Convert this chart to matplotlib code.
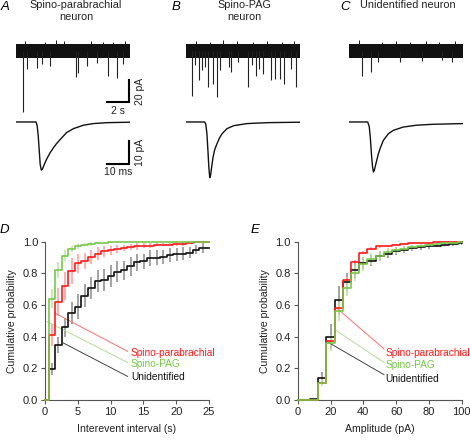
import matplotlib
matplotlib.use("Agg")
import matplotlib.pyplot as plt
from matplotlib.ticker import FormatStrFormatter
import numpy as np

plt.rcParams['font.family'] = ['Liberation Sans', 'DejaVu Sans']

W, H = 470, 440

# ---- raw traces (s, pA below baseline) ----
dur_raw = 10.36
noise_half = 6.5
raw_events = {
    'A': ([0.66, 0.97, 1.88, 2.33, 3.09, 5.45, 5.66, 6.42, 7.33, 8.39, 9.21, 9.76],
          [55.1, 16.6, 15.1, 12.1, 13.6, 23.6, 19.6, 13.6, 11.0, 22.7, 24.2, 12.0]),
    'B': ([0.52, 0.82, 1.21, 1.43, 1.73, 2.03, 2.48, 2.82, 3.12, 3.94, 4.09, 4.70,
           5.61, 5.97, 6.36, 6.66, 6.97, 7.73, 8.09, 8.57, 8.94, 9.54, 10.00],
          [41.2, 13.0, 26.6, 17.6, 14.5, 32.7, 29.7, 41.8, 17.6, 14.5, 19.1, 10.0,
           32.7, 13.0, 23.0, 16.1, 21.2, 26.6, 25.2, 25.2, 29.7, 16.1, 32.7]),
    'C': ([1.21, 1.97, 2.66, 4.64, 6.61, 8.43, 9.39],
          [22.5, 19.4, 9.7, 9.7, 9.1, 8.2, 9.7]),
}
raw_up = {
    'A': ([0.8, 2.6, 3.6, 4.4, 6.8, 7.9, 8.8, 9.9], [9, 8, 10, 9, 9, 8, 8, 9]),
    'B': ([0.9, 2.2, 3.4, 4.6, 6.1, 7.4, 8.7, 9.8], [9, 8, 10, 9, 8, 9, 8, 9]),
    'C': ([0.9, 3.0, 4.3, 5.5, 7.0, 8.2, 9.6], [10, 8, 9, 8, 9, 8, 9]),
}

# ---- averaged EPSCs (ms, pA) ----
avg_t = {
    'A': [0, 9.1, 9.6, 10.1, 10.6, 11.0, 11.5, 12.0, 12.6, 13.9, 15.4, 17.0, 18.5, 20.0,
          23.0, 26.1, 30.6, 35.1, 41.2, 51.8],
    'B': [0, 8.5, 9.0, 9.5, 10.0, 10.4, 10.8, 11.2, 11.6, 12.3, 13.1, 14.1, 15.2, 16.4,
          18.6, 21.7, 27.7, 36.8, 51.6],
    'C': [0, 8.5, 9.2, 9.7, 10.2, 10.7, 11.1, 11.5, 12.0, 12.6, 13.3, 14.1, 15.6, 17.9,
          20.2, 24.7, 30.7, 38.3, 51.9],
}
avg_i = {
    'A': [0, 0, -1.5, -6, -13, -18.5, -20.9, -20.5, -19.0, -16.2, -13.5, -11.2, -9.3, -7.7,
          -4.6, -2.9, -1.4, -0.7, -0.3, -0.1],
    'B': [0, 0, -1, -5, -13, -20, -24.2, -23, -20, -15.2, -11.8, -9.4, -7.0, -5.1,
          -2.9, -1.6, -0.7, -0.3, -0.1],
    'C': [0, 0, -2, -7, -14, -19.5, -21.7, -21, -19, -16.7, -14.0, -11.6, -8.0, -5.1,
          -3.6, -2.2, -1.4, -1.0, -0.7],
}

titles = {'A': 'Spino-parabrachial\nneuron', 'B': 'Spino-PAG\nneuron', 'C': 'Unidentified neuron'}
lefts = {'A': 16, 'B': 186, 'C': 349}

# ---- cumulative distributions ----
groups = ['Spino-parabrachial', 'Spino-PAG', 'Unidentified']
iei_edges = list(np.arange(0.55, 24, 1.0))
iei_mean = {
    'Unidentified': [0.195, 0.35, 0.46, 0.55, 0.59, 0.66, 0.71, 0.75, 0.76, 0.785, 0.81, 0.82,
                     0.845, 0.87, 0.875, 0.895, 0.90, 0.905, 0.915, 0.92, 0.925, 0.93, 0.95, 0.96],
    'Spino-parabrachial': [0.41, 0.62, 0.72, 0.815, 0.865, 0.88, 0.905, 0.925, 0.94, 0.945, 0.955, 0.96,
                           0.965, 0.97, 0.975, 0.975, 0.98, 0.98, 0.98, 0.985, 0.985, 0.99, 0.995, 0.995],
    'Spino-PAG': [0.64, 0.82, 0.91, 0.955, 0.97, 0.98, 0.985, 0.99, 0.993, 0.995, 0.997, 0.998,
                  0.999, 1.0, 1.0, 1.0, 1.0, 1.0, 1.0, 1.0, 1.0, 1.0, 1.0, 1.0],
}
iei_sem = {
    'Unidentified': [0.04, 0.05, 0.06, 0.07, 0.08, 0.07, 0.07, 0.07, 0.07, 0.07, 0.065, 0.06,
                     0.06, 0.055, 0.05, 0.05, 0.05, 0.045, 0.045, 0.04, 0.04, 0.035, 0.03, 0.03],
    'Spino-parabrachial': [0.07, 0.09, 0.09, 0.08, 0.06, 0.05, 0.045, 0.04, 0.035, 0.03, 0.025, 0.02,
                           0.02, 0.02, 0.015, 0.015, 0.01, 0.01, 0.01, 0.01, 0.01, 0.005, 0.005, 0.005],
    'Spino-PAG': [0.06, 0.05, 0.035, 0.02, 0.015, 0.01, 0.01, 0.005, 0.004, 0.003, 0.002, 0.002,
                  0, 0, 0, 0, 0, 0, 0, 0, 0, 0, 0, 0],
}
amp_edges = list(np.arange(7.5, 100, 5.0))
amp_mean = {
    'Unidentified': [0.005, 0.14, 0.40, 0.63, 0.745, 0.82, 0.865, 0.88, 0.91, 0.925,
                     0.94, 0.95, 0.96, 0.965, 0.97, 0.975, 0.98, 0.985, 0.99],
    'Spino-parabrachial': [0.003, 0.11, 0.37, 0.58, 0.76, 0.87, 0.93, 0.955, 0.97, 0.975,
                           0.98, 0.985, 0.99, 0.99, 0.993, 0.995, 0.997, 0.998, 1.0],
    'Spino-PAG': [0.003, 0.11, 0.36, 0.56, 0.71, 0.80, 0.86, 0.89, 0.91, 0.935,
                  0.945, 0.955, 0.965, 0.975, 0.98, 0.985, 0.99, 0.99, 0.995],
}
amp_sem = {
    'Unidentified': [0, 0.04, 0.08, 0.09, 0.06, 0.05, 0.04, 0.035, 0.03, 0.03,
                     0.025, 0.02, 0.02, 0.015, 0.015, 0.01, 0.01, 0.01, 0.01],
    'Spino-parabrachial': [0, 0.01, 0.02, 0.02, 0.02, 0.015, 0.01, 0.01, 0.008, 0.006,
                           0.005, 0.005, 0.004, 0.004, 0.003, 0.003, 0.002, 0.002, 0],
    'Spino-PAG': [0, 0.02, 0.05, 0.06, 0.05, 0.05, 0.045, 0.04, 0.03, 0.025,
                  0.02, 0.02, 0.015, 0.01, 0.01, 0.01, 0.008, 0.008, 0.005],
}

line_col = {'Spino-parabrachial': '#ff1a1a', 'Spino-PAG': '#77c84a', 'Unidentified': '#111111'}
err_col = {'Spino-parabrachial': '#ff9a9a', 'Spino-PAG': '#bfe0a8', 'Unidentified': '#8a8a8a'}
lead_col = {'Spino-parabrachial': '#ff7070', 'Spino-PAG': '#b5dc98', 'Unidentified': '#444444'}
draw_order = ['Unidentified', 'Spino-parabrachial', 'Spino-PAG']


def px_axes(fig, left, top, width, height):
    return fig.add_axes([left / W, 1 - (top + height) / H, width / W, height / H])


fig = plt.figure(figsize=(W / 100, H / 100), dpi=100)

# top row: raw traces and averages
for key in ['A', 'B', 'C']:
    ax = px_axes(fig, lefts[key], 30, 114, 85)
    ax.set_xlim(0, dur_raw)
    ax.set_ylim(-58.2, 19.1)
    ax.axis('off')
    ax.fill_between([0, dur_raw], -noise_half, noise_half, color='#111111', lw=0)
    t, a = raw_events[key]
    ax.vlines(t, 0, -np.array(a), color='#222222', lw=0.8)
    tu, au = raw_up[key]
    ax.vlines(tu, 0, au, color='#111111', lw=0.7)

    ax2 = px_axes(fig, lefts[key], 110, 114, 70)
    ax2.set_xlim(0, 51.8)
    ax2.set_ylim(-25.2, 5.2)
    ax2.axis('off')
    ax2.plot(avg_t[key], avg_i[key], color='#111111', lw=1.0)

    if key == 'A':
        # scale bars
        ax.plot([8.27, 10.27, 10.27], [-46.4, -46.4, -26.4], color='black', lw=1.5,
                clip_on=False, solid_joinstyle='miter')
        ax.text(9.27, -50, '2 s', ha='center', va='top', fontsize=7.5, color='#222222')
        ax.text(10.8, -36.4, '20 pA', ha='left', va='center', rotation=90, fontsize=7.5,
                color='#222222')
        ax2.plot([41.4, 51.4, 51.4], [-18.4, -18.4, -8.4], color='black', lw=1.5,
                 clip_on=False, solid_joinstyle='miter')
        ax2.text(46.4, -19.6, '10 ms', ha='center', va='top', fontsize=7.5, color='#222222')
        ax2.text(54.0, -13.4, '10 pA', ha='left', va='center', rotation=90, fontsize=7.5,
                 color='#222222')

    cx = {'A': 76, 'B': 244, 'C': 408}[key]
    fig.text(cx / W, 1 - 11 / H if key != 'C' else 1 - 5.5 / H, titles[key],
             ha='center', va='center', fontsize=7.8, linespacing=1.25, color='#222222')
    lx = {'A': 1, 'B': 172, 'C': 340}[key]
    fig.text(lx / W, 1 - 1 / H, key, ha='left', va='top', fontsize=9.5, style='italic')


def cum_panel(ax, edges, means, sems, xmax):
    width = edges[1] - edges[0]
    for g in draw_order:
        mids = np.array(edges) + width / 2
        m = np.array(means[g])
        s = np.array(sems[g])
        ax.vlines(mids, m - s, m + s, color=err_col[g], lw=1.1, zorder=1)
    for g in draw_order:
        xs = [0] + list(edges) + [xmax]
        ys = [0] + list(means[g]) + [means[g][-1]]
        ax.step(xs, ys, where='post', color=line_col[g], lw=1.2, zorder=3, clip_on=False)
    ax.set_xlim(0, xmax)
    ax.set_ylim(0, 1.0)
    for sp in ['top', 'right']:
        ax.spines[sp].set_visible(False)
    for sp in ['left', 'bottom']:
        ax.spines[sp].set_color('#555555')
        ax.spines[sp].set_linewidth(0.8)
    ax.tick_params(direction='out', length=3, width=0.8, color='#555555',
                   labelsize=8, labelcolor='#222222', pad=2)
    ax.set_yticks([0, 0.2, 0.4, 0.6, 0.8, 1.0])
    ax.yaxis.set_major_formatter(FormatStrFormatter('%.1f'))
    ax.set_ylabel('Cumulative probability', fontsize=7.6, labelpad=4, color='#222222')


def legend_leaders(ax, starts, ends, text_x, text_y):
    for g in groups:
        ax.plot([starts[g][0], ends[g][0]], [starts[g][1], ends[g][1]],
                color=lead_col[g], lw=0.7, zorder=2)
        ax.text(text_x, text_y[g], g, color=line_col[g], fontsize=7.3, va='center', ha='left')


axD = px_axes(fig, 45, 241.7, 164, 158.3)
cum_panel(axD, iei_edges, iei_mean, iei_sem, 25)
axD.set_xticks([0, 5, 10, 15, 20, 25])
axD.set_xlabel('Interevent interval (s)', fontsize=7.6, labelpad=5, color='#222222')
legend_leaders(axD,
               {'Spino-parabrachial': (1.55, 0.548), 'Spino-PAG': (0.3, 0.496), 'Unidentified': (2.8, 0.36)},
               {'Spino-parabrachial': (12.6, 0.307), 'Spino-PAG': (12.6, 0.237), 'Unidentified': (12.6, 0.149)},
               13.1, {'Spino-parabrachial': 0.30, 'Spino-PAG': 0.229, 'Unidentified': 0.143})
fig.text(0 / W, 1 - 224 / H, 'D', ha='left', va='top', fontsize=9.5, style='italic')

axE = px_axes(fig, 297.7, 241.7, 164, 158.3)
cum_panel(axE, amp_edges, amp_mean, amp_sem, 100)
axE.set_xticks([0, 20, 40, 60, 80, 100])
axE.set_xlabel('Amplitude (pA)', fontsize=7.6, labelpad=5, color='#222222')
legend_leaders(axE,
               {'Spino-parabrachial': (23.8, 0.58), 'Spino-PAG': (23.4, 0.44), 'Unidentified': (17.7, 0.37)},
               {'Spino-parabrachial': (52.6, 0.323), 'Spino-PAG': (52.6, 0.237), 'Unidentified': (52.6, 0.16)},
               53.5, {'Spino-parabrachial': 0.296, 'Spino-PAG': 0.218, 'Unidentified': 0.134})
fig.text(251 / W, 1 - 224 / H, 'E', ha='left', va='top', fontsize=9.5, style='italic')

fig.savefig('out.png', dpi=100)
